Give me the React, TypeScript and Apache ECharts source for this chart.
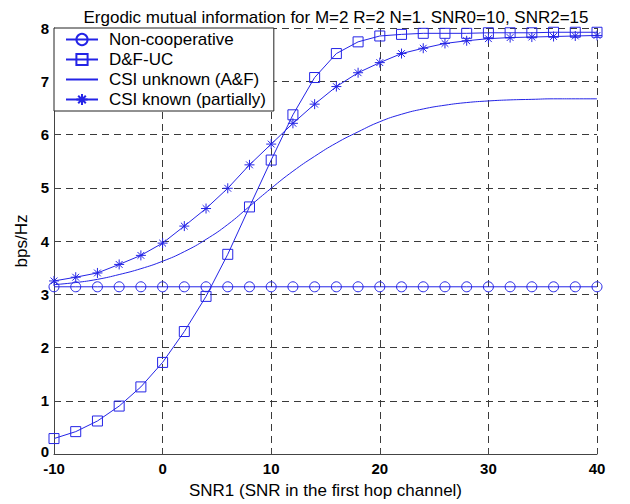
import React, { useEffect, useRef } from "react";
import * as echarts from "echarts";

const SNR1 = [-10, -8, -6, -4, -2, 0, 2, 4, 6, 8, 10, 12, 14, 16, 18, 20, 22, 24, 26, 28, 30, 32, 34, 36, 38, 40];
const NON_COOP = [3.14, 3.14, 3.14, 3.14, 3.14, 3.14, 3.14, 3.14, 3.14, 3.14, 3.14, 3.14, 3.14, 3.14, 3.14, 3.14, 3.14, 3.14, 3.14, 3.14, 3.14, 3.14, 3.14, 3.14, 3.14, 3.14];
const DF_UC = [0.29, 0.42, 0.62, 0.9, 1.26, 1.72, 2.3, 2.96, 3.75, 4.64, 5.52, 6.37, 7.07, 7.52, 7.74, 7.85, 7.88, 7.9, 7.9, 7.9, 7.91, 7.91, 7.91, 7.92, 7.92, 7.92];
const CSI_UNKNOWN = [3.18, 3.22, 3.28, 3.37, 3.48, 3.62, 3.8, 4.03, 4.31, 4.65, 4.99, 5.31, 5.59, 5.84, 6.05, 6.24, 6.38, 6.48, 6.55, 6.6, 6.63, 6.65, 6.66, 6.67, 6.67, 6.67];
const CSI_KNOWN = [3.25, 3.32, 3.4, 3.56, 3.73, 3.96, 4.28, 4.61, 4.99, 5.43, 5.82, 6.21, 6.57, 6.9, 7.16, 7.35, 7.52, 7.62, 7.71, 7.76, 7.8, 7.82, 7.83, 7.84, 7.85, 7.86];

const SERIES_NAMES = ["Non-cooperative", "D&F-UC", "CSI unknown (A&F)", "CSI known (partially)"];
const TITLE = "Ergodic mutual information for M=2 R=2 N=1. SNR0=10, SNR2=15";
const X_NAME = "SNR1 (SNR in the first hop channel)";
const Y_NAME = "bps/Hz";

const BLUE = "#2424e6";
const FONT = "'Liberation Sans', Arial, Helvetica, sans-serif";
const ASTERISK = "path://M5 0 L5 10 M0 5 L10 5 M1.6 1.6 L8.4 8.4 M1.6 8.4 L8.4 1.6";

const pairs = (ys: number[]) => SNR1.map((x, i) => [x, ys[i]]);

export default function App() {
  const ref = useRef<HTMLDivElement>(null);
  useEffect(() => {
    if (!ref.current) return;
    const chart = echarts.init(ref.current, null, { renderer: "svg" });
    const markerStyle = { color: "none", borderColor: BLUE, borderWidth: 1 };
    const gridLine = { show: true, lineStyle: { color: "#3a3a3a", type: [7, 5], width: 1 } };
    const tickFont = { fontFamily: FONT, fontSize: 15, fontWeight: "bold", color: "#000" };
    chart.setOption({
      animation: false,
      backgroundColor: "#fff",
      title: {
        text: TITLE,
        left: 331,
        textAlign: "center",
        top: 4,
        textStyle: { fontFamily: FONT, fontSize: 17, fontWeight: "normal", color: "#000" },
      },
      legend: {
        orient: "vertical",
        left: 54,
        top: 28,
        padding: [3, 8, 3, 11],
        itemWidth: 32,
        itemHeight: 14,
        itemGap: 3,
        backgroundColor: "#fff",
        borderColor: "#222",
        borderWidth: 1,
        borderRadius: 0,
        data: [
          { name: SERIES_NAMES[0] },
          { name: SERIES_NAMES[1] },
          { name: SERIES_NAMES[2], itemStyle: { opacity: 0 } },
          { name: SERIES_NAMES[3] },
        ],
        textStyle: { fontFamily: FONT, fontSize: 17, lineHeight: 17, color: "#000", padding: [0, 0, 0, 6] },
      },
      grid: { left: 54, right: 33, top: 28, bottom: 49, containLabel: false },
      xAxis: {
        type: "value",
        min: -10,
        max: 40,
        interval: 10,
        name: X_NAME,
        nameLocation: "middle",
        nameGap: 28,
        nameTextStyle: { fontFamily: FONT, fontSize: 17, color: "#000" },
        axisLine: { show: true, onZero: false, lineStyle: { color: "#444", width: 1 } },
        axisTick: { show: true, inside: true, length: 5, lineStyle: { color: "#444" } },
        axisLabel: { ...tickFont, margin: 8, lineHeight: 13 },
        splitLine: gridLine,
      },
      yAxis: {
        type: "value",
        min: 0,
        max: 8,
        interval: 1,
        name: Y_NAME,
        nameLocation: "middle",
        nameGap: 22,
        nameRotate: 90,
        nameTextStyle: { fontFamily: FONT, fontSize: 17, color: "#000" },
        axisLine: { show: true, onZero: false, lineStyle: { color: "#444", width: 1 } },
        axisTick: { show: true, inside: true, length: 5, lineStyle: { color: "#444" } },
        axisLabel: {
          ...tickFont,
          margin: 5,
          lineHeight: 11,
          formatter: (v: number) => (v === 0 ? "{z|0}" : String(v)),
          rich: { z: { ...tickFont, lineHeight: 11, padding: [0, 0, 5, 0] } },
        },
        splitLine: gridLine,
      },
      series: [
        {
          name: SERIES_NAMES[0],
          type: "line",
          data: pairs(NON_COOP),
          symbol: "circle",
          symbolSize: 10,
          lineStyle: { color: BLUE, width: 1 },
          itemStyle: markerStyle,
          z: 3,
        },
        {
          name: SERIES_NAMES[1],
          type: "line",
          data: pairs(DF_UC),
          symbol: "rect",
          symbolSize: 10,
          lineStyle: { color: BLUE, width: 1 },
          itemStyle: markerStyle,
          z: 3,
        },
        {
          name: SERIES_NAMES[2],
          type: "line",
          data: pairs(CSI_UNKNOWN),
          symbol: "none",
          showSymbol: false,
          smooth: true,
          lineStyle: { color: BLUE, width: 1 },
          itemStyle: { color: BLUE },
          z: 3,
        },
        {
          name: SERIES_NAMES[3],
          type: "line",
          data: pairs(CSI_KNOWN),
          symbol: ASTERISK,
          symbolSize: 10,
          lineStyle: { color: BLUE, width: 1 },
          itemStyle: markerStyle,
          z: 3,
        },
      ],
    });
    return () => chart.dispose();
  }, []);
  return (
    <div
      ref={ref}
      style={{ position: "absolute", left: 0, top: 0, width: 630, height: 504, background: "#fff" }}
    />
  );
}
